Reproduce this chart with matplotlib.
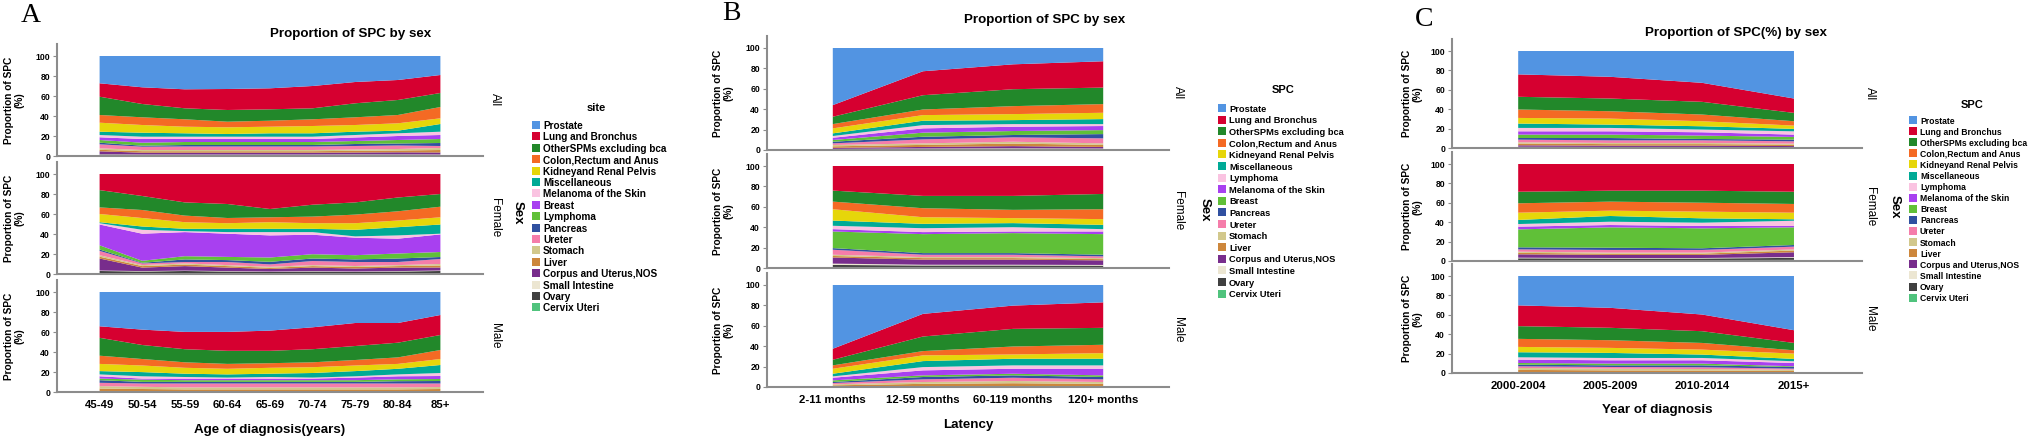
import matplotlib
matplotlib.use('Agg')
import matplotlib.pyplot as plt
from matplotlib.patches import Rectangle

plt.rcParams['font.family'] = ['Liberation Sans', 'DejaVu Sans']

# Legend labels (top of stack first). Panel A names the three middle colours differently.
SITES_A = ['Prostate', 'Lung and Bronchus', 'OtherSPMs excluding bca', 'Colon,Rectum and Anus',
           'Kidneyand Renal Pelvis', 'Miscellaneous', 'Melanoma of the Skin', 'Breast', 'Lymphoma',
           'Pancreas', 'Ureter', 'Stomach', 'Liver', 'Corpus and Uterus,NOS', 'Small Intestine',
           'Ovary', 'Cervix Uteri']
SITES_BC = ['Prostate', 'Lung and Bronchus', 'OtherSPMs excluding bca', 'Colon,Rectum and Anus',
            'Kidneyand Renal Pelvis', 'Miscellaneous', 'Lymphoma', 'Melanoma of the Skin', 'Breast',
            'Pancreas', 'Ureter', 'Stomach', 'Liver', 'Corpus and Uterus,NOS', 'Small Intestine',
            'Ovary', 'Cervix Uteri']

colors = ['#5294e2', '#d60030', '#22882a', '#f46a24', '#e6d60a', '#00aa96', '#fac3e1', '#a840f0',
          '#60c038', '#3050a0', '#f57daa', '#d2c88c', '#cd873c', '#782d8c', '#ece6d2', '#404040',
          '#50c37d']

SEXES = ['All', 'Female', 'Male']

# ---- Panel A: age of diagnosis ----
AGE_GROUPS = ['45-49', '50-54', '55-59', '60-64', '65-69', '70-74', '75-79', '80-84', '85+']

A_ALL = [
    [27.3, 31.3, 33.3, 33.0, 32.3, 30.0, 26.0, 24.0, 19.0],
    [13.4, 16.7, 19.0, 21.0, 21.0, 22.3, 21.3, 20.0, 18.0],
    [18.3, 13.3, 11.0, 11.7, 11.4, 11.0, 14.0, 15.0, 14.0],
    [7.7, 7.7, 7.4, 5.6, 6.0, 6.7, 7.7, 8.3, 11.3],
    [9.0, 7.7, 6.6, 6.7, 6.6, 7.3, 6.7, 7.4, 5.7],
    [3.3, 4.0, 3.4, 2.7, 3.4, 3.4, 3.3, 2.6, 7.7],
    [2.3, 2.3, 2.3, 2.3, 2.3, 2.3, 2.5, 2.7, 3.3],
    [2.7, 3.7, 3.0, 3.0, 3.0, 3.0, 3.5, 4.0, 4.0],
    [2.7, 3.0, 3.0, 3.0, 3.0, 3.0, 3.0, 3.5, 4.0],
    [1.6, 1.0, 1.5, 1.5, 1.5, 1.5, 2.0, 2.0, 3.0],
    [4.0, 3.3, 3.5, 3.5, 3.5, 3.5, 3.5, 3.5, 2.0],
    [1.5, 1.2, 1.2, 1.2, 1.2, 1.2, 1.3, 1.5, 2.0],
    [1.5, 1.5, 1.5, 1.5, 1.5, 1.5, 1.7, 1.8, 2.5],
    [2.9, 1.8, 1.8, 1.8, 1.8, 1.8, 1.8, 2.0, 2.0],
    [0.3, 0.3, 0.3, 0.3, 0.3, 0.3, 0.3, 0.3, 0.4],
    [0.9, 0.8, 0.8, 0.8, 0.8, 0.8, 0.9, 0.9, 0.7],
    [0.6, 0.4, 0.4, 0.4, 0.4, 0.4, 0.5, 0.5, 0.4],
]
A_FEMALE = [
    [0, 0, 0, 0, 0, 0, 0, 0, 0],
    [16.1, 22.0, 28.4, 30.0, 35.0, 30.7, 28.4, 23.5, 20.0],
    [17.3, 14.0, 13.2, 14.0, 8.3, 11.9, 12.2, 13.8, 12.7],
    [6.6, 8.0, 6.6, 5.2, 4.9, 6.6, 8.6, 9.2, 10.6],
    [8.2, 8.5, 6.6, 5.6, 6.6, 5.6, 6.6, 6.7, 7.2],
    [1.0, 3.3, 2.3, 3.3, 3.3, 3.3, 6.6, 8.2, 9.2],
    [1.3, 3.9, 1.0, 1.6, 3.3, 2.6, 1.3, 3.3, 0.7],
    [20.8, 27.1, 24.1, 23.2, 22.1, 19.5, 17.5, 14.8, 17.6],
    [4.2, 2.0, 3.2, 3.2, 4.3, 4.3, 4.2, 5.0, 5.0],
    [1.4, 0.6, 2.6, 1.9, 2.6, 2.5, 2.6, 3.5, 2.0],
    [4.3, 1.7, 1.4, 3.1, 2.4, 4.1, 4.0, 3.1, 5.0],
    [1.5, 1.0, 1.2, 1.0, 1.0, 1.0, 1.0, 1.0, 1.5],
    [1.8, 1.5, 1.5, 1.5, 1.2, 1.5, 1.5, 1.5, 2.0],
    [12.0, 3.5, 4.5, 3.5, 2.6, 3.5, 3.0, 3.5, 3.0],
    [0.5, 0.4, 0.4, 0.4, 0.4, 0.4, 0.4, 0.4, 0.5],
    [2.0, 1.5, 2.0, 1.5, 1.2, 1.5, 1.3, 1.5, 2.0],
    [1.0, 1.0, 1.0, 1.0, 0.8, 1.0, 0.8, 1.0, 1.0],
]
A_MALE = [
    [34.3, 37.6, 39.9, 39.9, 38.6, 35.3, 31.0, 31.0, 23.0],
    [11.5, 15.4, 17.3, 18.9, 20.2, 21.9, 23.0, 19.7, 20.0],
    [17.9, 14.0, 13.1, 13.1, 12.4, 13.1, 14.0, 14.7, 15.0],
    [8.2, 6.5, 5.5, 4.9, 4.6, 4.9, 5.5, 6.5, 9.0],
    [7.2, 6.6, 5.9, 5.6, 5.9, 5.8, 5.6, 4.9, 6.0],
    [3.3, 4.2, 3.3, 3.2, 3.3, 4.6, 5.2, 5.6, 8.0],
    [1.9, 2.3, 1.6, 1.0, 1.6, 1.0, 1.3, 1.9, 3.0],
    [2.3, 1.0, 1.6, 1.6, 1.6, 1.6, 2.6, 3.0, 3.0],
    [1.6, 2.3, 1.7, 1.7, 1.7, 1.7, 1.7, 1.9, 2.0],
    [2.6, 1.6, 1.6, 1.6, 1.6, 1.6, 1.6, 2.3, 2.5],
    [3.3, 3.3, 3.9, 3.9, 3.9, 3.9, 3.9, 3.9, 3.5],
    [2.5, 2.2, 2.0, 2.0, 2.0, 2.0, 2.0, 2.0, 2.0],
    [3.0, 2.6, 2.2, 2.2, 2.2, 2.2, 2.2, 2.2, 2.6],
    [0, 0, 0, 0, 0, 0, 0, 0, 0],
    [0.4, 0.4, 0.4, 0.4, 0.4, 0.4, 0.4, 0.4, 0.4],
    [0, 0, 0, 0, 0, 0, 0, 0, 0],
    [0, 0, 0, 0, 0, 0, 0, 0, 0],
]

# ---- Panel B: latency ----
LATENCY = ['2-11 months', '12-59 months', '60-119 months', '120+ months']

B_ALL = [
    [56.0, 22.8, 16.0, 13.0],
    [11.4, 23.5, 24.4, 25.8],
    [7.2, 14.0, 16.6, 16.2],
    [4.2, 5.5, 7.8, 8.5],
    [4.9, 5.5, 5.9, 6.2],
    [2.6, 4.3, 3.9, 4.9],
    [1.7, 3.2, 2.6, 1.9],
    [2.2, 4.2, 4.2, 4.0],
    [1.7, 4.0, 3.9, 3.9],
    [1.6, 2.6, 2.3, 4.2],
    [1.6, 3.9, 4.3, 4.9],
    [1.3, 1.5, 1.8, 1.5],
    [1.5, 2.0, 2.5, 2.0],
    [1.0, 1.5, 2.0, 1.5],
    [0.3, 0.3, 0.4, 0.3],
    [0.5, 0.8, 1.0, 0.8],
    [0.3, 0.4, 0.4, 0.4],
]
B_FEMALE = [
    [0, 0, 0, 0],
    [24.1, 29.3, 29.3, 27.4],
    [10.8, 12.1, 13.7, 15.0],
    [7.5, 8.8, 8.1, 9.7],
    [11.1, 6.5, 4.9, 5.6],
    [5.1, 4.3, 4.0, 4.2],
    [3.3, 3.8, 4.2, 2.3],
    [2.3, 2.0, 1.6, 2.6],
    [16.3, 18.6, 19.6, 20.2],
    [1.6, 1.6, 1.6, 1.6],
    [4.9, 2.3, 2.3, 1.7],
    [1.2, 1.0, 1.0, 1.0],
    [1.5, 1.5, 1.5, 1.2],
    [6.0, 5.0, 5.0, 4.5],
    [1.3, 0.7, 0.7, 0.7],
    [2.0, 1.5, 1.5, 1.3],
    [1.0, 1.0, 1.0, 1.0],
]
B_MALE = [
    [62.5, 28.3, 20.2, 17.0],
    [10.8, 22.2, 22.8, 25.0],
    [5.5, 14.3, 17.3, 16.6],
    [3.3, 4.2, 7.8, 8.2],
    [4.9, 5.6, 4.2, 5.5],
    [2.6, 5.9, 6.5, 6.5],
    [1.3, 3.2, 3.3, 3.3],
    [2.6, 4.9, 4.9, 6.5],
    [1.6, 1.6, 1.6, 1.6],
    [1.0, 2.3, 2.3, 2.3],
    [1.3, 2.6, 3.2, 2.6],
    [1.0, 1.8, 2.2, 1.8],
    [1.3, 2.7, 3.3, 2.7],
    [0, 0, 0, 0],
    [0.3, 0.4, 0.4, 0.4],
    [0, 0, 0, 0],
    [0, 0, 0, 0],
]

# ---- Panel C: year of diagnosis ----
YEARS = ['2000-2004', '2005-2009', '2010-2014', '2015+']

C_ALL = [
    [24.1, 26.6, 32.8, 49.0],
    [23.1, 22.4, 19.6, 14.8],
    [13.1, 13.1, 13.1, 8.6],
    [8.7, 7.6, 6.9, 4.5],
    [5.8, 6.2, 5.2, 3.4],
    [4.5, 3.4, 3.4, 2.5],
    [3.5, 3.5, 2.8, 3.4],
    [3.4, 3.4, 3.4, 2.4],
    [3.5, 3.5, 3.5, 2.8],
    [1.7, 2.4, 1.4, 1.7],
    [2.7, 2.7, 2.7, 2.4],
    [1.3, 1.2, 1.2, 1.0],
    [1.8, 1.6, 1.6, 1.5],
    [1.5, 1.3, 1.3, 1.1],
    [0.3, 0.3, 0.3, 0.2],
    [0.6, 0.5, 0.5, 0.4],
    [0.4, 0.3, 0.3, 0.3],
]
C_FEMALE = [
    [0, 0, 0, 0],
    [28.6, 27.5, 27.5, 28.6],
    [11.9, 11.3, 12.4, 12.6],
    [9.7, 9.3, 9.2, 9.0],
    [7.5, 5.5, 6.9, 6.8],
    [4.2, 5.9, 4.5, 1.5],
    [2.7, 3.4, 3.4, 5.4],
    [2.8, 2.4, 2.4, 1.4],
    [18.5, 21.0, 20.6, 18.2],
    [2.1, 2.3, 1.7, 1.7],
    [2.4, 2.8, 2.8, 2.8],
    [1.2, 1.0, 1.0, 1.2],
    [1.5, 1.3, 1.3, 1.8],
    [3.5, 3.2, 3.2, 5.0],
    [0.6, 0.5, 0.5, 0.8],
    [1.8, 1.6, 1.6, 2.0],
    [1.0, 1.0, 1.0, 1.2],
]
C_MALE = [
    [30.3, 32.8, 39.7, 55.9],
    [21.4, 20.6, 17.2, 13.1],
    [13.1, 12.8, 12.1, 7.6],
    [8.3, 7.9, 6.9, 3.4],
    [5.5, 5.2, 5.1, 5.5],
    [5.2, 5.2, 3.5, 2.4],
    [2.4, 2.4, 2.4, 1.8],
    [3.5, 3.4, 3.4, 3.4],
    [1.7, 1.8, 1.8, 0.7],
    [1.7, 1.7, 2.0, 1.7],
    [1.7, 1.7, 1.8, 1.1],
    [2.0, 1.8, 1.6, 1.3],
    [2.8, 2.4, 2.2, 1.8],
    [0, 0, 0, 0],
    [0.4, 0.3, 0.3, 0.3],
    [0, 0, 0, 0],
    [0, 0, 0, 0],
]

# Layout (pixel coordinates of the 2030x441 output)
W, H = 2030, 441
SPINE = '#8c8c8c'

panels = [
    dict(letter='A', letter_xy=(31, 15), cats=AGE_GROUPS, data=[A_ALL, A_FEMALE, A_MALE],
         sites=SITES_A, legend_title='site', title='Proportion of SPC by sex', title_xy=(351, 34),
         x0=57, x1=483, xlim=(-1.0, 9.0), zeros=[156, 274, 392], scale=1.0,
         ylab_x=14, strip_x=495, sex_xy=(518, 213),
         leg_title_xy=(596, 108), leg_x=532, leg_y0=125, leg_dy=11.4, leg_size=7.2,
         xlab='Age of diagnosis(years)', xlab_y=430),
    dict(letter='B', letter_xy=(731, 14), cats=LATENCY, data=[B_ALL, B_FEMALE, B_MALE],
         sites=SITES_BC, legend_title='SPC', title='Proportion of SPC by sex', title_xy=(1045, 20),
         x0=767, x1=1169, xlim=(-0.73, 3.73), zeros=[150, 268, 387], scale=1.02,
         ylab_x=723, strip_x=1178, sex_xy=(1205, 210),
         leg_title_xy=(1283, 90), leg_x=1218, leg_y0=108, leg_dy=11.6, leg_size=6.7,
         xlab='Latency', xlab_y=425),
    dict(letter='C', letter_xy=(1424, 20), cats=YEARS, data=[C_ALL, C_FEMALE, C_MALE],
         sites=SITES_BC, legend_title='SPC', title='Proportion of SPC(%) by sex', title_xy=(1736, 33),
         x0=1452, x1=1862, xlim=(-0.72, 3.74), zeros=[148, 261, 373], scale=0.97,
         ylab_x=1412, strip_x=1870, sex_xy=(1895, 207),
         leg_title_xy=(1972, 105), leg_x=1909, leg_y0=120, leg_dy=11.1, leg_size=6.2,
         xlab='Year of diagnosis', xlab_y=410),
]

YMAX = 112
BOX = 8  # legend swatch size, px

fig = plt.figure(figsize=(W / 100, H / 100), dpi=100)


def fx(x):
    return x / W


def fy(y):
    return 1 - y / H


for p in panels:
    x = list(range(len(p['cats'])))
    for row, (sex, values) in enumerate(zip(SEXES, p['data'])):
        zero = p['zeros'][row]
        top = zero - p['scale'] * YMAX
        ax = fig.add_axes([fx(p['x0']), fy(zero), (p['x1'] - p['x0']) / W, (zero - top) / H])
        # stack from the bottom (last legend entry) up to Prostate
        ax.stackplot(x, *values[::-1], colors=colors[::-1], linewidth=0)
        ax.set_xlim(*p['xlim'])
        ax.set_ylim(0, YMAX)
        ax.set_yticks([0, 20, 40, 60, 80, 100])
        for s in ['top', 'right']:
            ax.spines[s].set_visible(False)
        for s in ['left', 'bottom']:
            ax.spines[s].set_color(SPINE)
            ax.spines[s].set_linewidth(1.5)
        ax.tick_params(axis='y', length=3, width=0.8, color=SPINE, pad=2, labelsize=6.2)
        for lab in ax.get_yticklabels():
            lab.set_fontweight('bold')
        ax.set_xticks(x)
        if row == 2:
            ax.set_xticklabels(p['cats'], fontsize=8.2, fontweight='bold')
            ax.tick_params(axis='x', length=0, pad=6)
        else:
            ax.set_xticklabels([])
            ax.tick_params(axis='x', length=0)
        mid = (zero + top) / 2
        fig.text(fx(p['ylab_x']), fy(mid), 'Proportion of SPC\n(%)', rotation=90, ha='center',
                 va='center', fontsize=7.3, fontweight='bold', linespacing=1.1)
        fig.text(fx(p['strip_x']), fy(mid), sex, rotation=-90, ha='center', va='center', fontsize=8.5)

    fig.text(fx(p['letter_xy'][0]), fy(p['letter_xy'][1]), p['letter'], ha='center', va='center',
             fontsize=20, family='Liberation Serif')
    fig.text(fx(p['title_xy'][0]), fy(p['title_xy'][1]), p['title'], ha='center', va='center',
             fontsize=9.6, fontweight='bold')
    fig.text(fx((p['x0'] + p['x1']) / 2), fy(p['xlab_y']), p['xlab'], ha='center', va='center',
             fontsize=9.6, fontweight='bold')
    fig.text(fx(p['sex_xy'][0]), fy(p['sex_xy'][1]), 'Sex', rotation=-90, ha='center', va='center',
             fontsize=9.5, fontweight='bold')

    # legend: title plus swatch rows
    fig.text(fx(p['leg_title_xy'][0]), fy(p['leg_title_xy'][1]), p['legend_title'], ha='center',
             va='center', fontsize=8, fontweight='bold')
    for i, (c, label) in enumerate(zip(colors, p['sites'])):
        yc = p['leg_y0'] + i * p['leg_dy']
        fig.add_artist(Rectangle((fx(p['leg_x']), fy(yc + BOX / 2)), BOX / W, BOX / H,
                                 transform=fig.transFigure, facecolor=c, edgecolor='none'))
        fig.text(fx(p['leg_x'] + BOX + 3), fy(yc), label, ha='left', va='center_baseline',
                 fontsize=p['leg_size'], fontweight='bold')

fig.savefig('out.png', dpi=100, facecolor='white')
